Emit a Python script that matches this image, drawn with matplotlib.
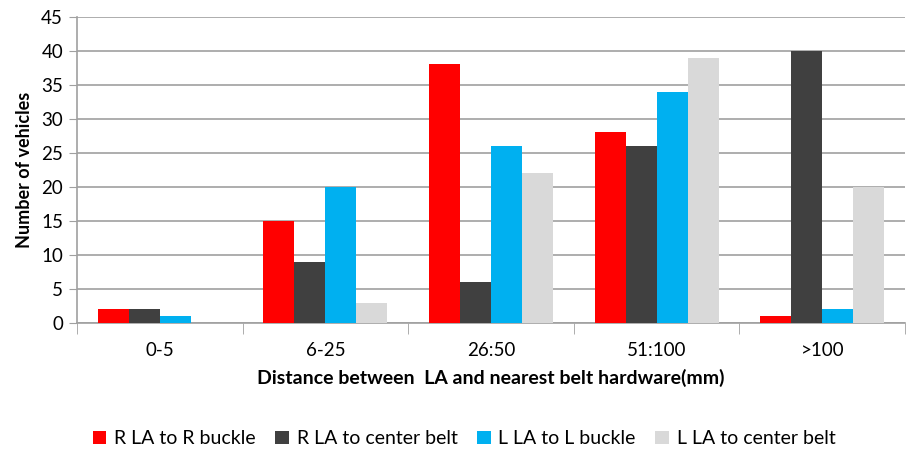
import numpy as np
from matplotlib import pyplot as plt

plt.rcParams['font.family'] = ['Lato', 'DejaVu Sans']

categories = ["0-5", "6-25", "26:50", "51:100", ">100"]
seriesNames = ["R LA to R buckle", "R LA to center belt", "L LA to L buckle", "L LA to center belt"]
rBuckle = [2, 15, 38, 28, 1]
rCenter = [2, 9, 6, 26, 40]
lBuckle = [1, 20, 26, 34, 2]
lCenter = [0, 3, 22, 39, 20]
colors = ["#ff0000", "#404040", "#00b0f0", "#d9d9d9"]

fig = plt.figure(figsize=(9.1, 4.49), dpi=100)
ax = fig.add_axes([0.0846, 0.2806, 0.91, 0.682])

x = np.arange(len(categories))
width = 0.187
allSeries = [rBuckle, rCenter, lBuckle, lCenter]
for i in range(4):
    ax.bar(x + (i - 1.5) * width, allSeries[i], width, color=colors[i], label=seriesNames[i], zorder=3)

ax.set_xlim(-0.5, len(categories) - 0.5)
ax.set_ylim(0, 45)
ax.set_yticks(range(0, 46, 5))
ax.yaxis.grid(True, color="#a0a0a0", linewidth=1.2, zorder=0)
ax.set_xticks(x)
ax.set_xticklabels(categories)
ax.set_xticks(np.arange(-0.5, len(categories), 1), minor=True)
ax.tick_params(axis="x", which="major", length=0, pad=14, labelsize=13.5)
ax.tick_params(axis="x", which="minor", length=8, color="#a0a0a0")
ax.tick_params(axis="y", length=6, color="#a0a0a0", labelsize=13.5, pad=4)

for side in ["top", "right"]:
    ax.spines[side].set_visible(False)
ax.spines["left"].set_color("#a0a0a0")
ax.spines["bottom"].set_color("#a0a0a0")
ax.spines["left"].set_linewidth(1.2)
ax.spines["bottom"].set_linewidth(1.2)

ax.set_xlabel("Distance between  LA and nearest belt hardware(mm)", fontweight="bold", fontsize=14, labelpad=7)
ax.set_ylabel("Number of vehicles", fontweight="bold", fontsize=13, labelpad=6)

fig.legend(loc="lower center", bbox_to_anchor=(0.51, -0.035), ncol=4, frameon=False,
           fontsize=14, handlelength=0.7, handleheight=0.7, columnspacing=1.0, handletextpad=0.4)

plt.savefig("out.png", dpi=100)
